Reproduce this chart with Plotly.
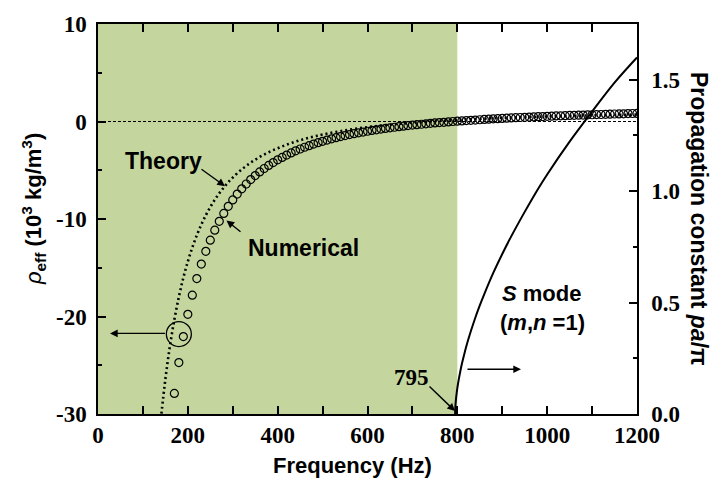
import plotly.graph_objects as go

# ---------------- data ----------------
num_freq = [170, 180, 190, 200, 210, 220, 230, 240, 250, 260,
            270, 280, 290, 300, 310, 320, 330, 340, 350, 360,
            370, 380, 390, 400, 410, 420, 430, 440, 450, 460,
            470, 480, 490, 500, 510, 520, 530, 540, 550, 560,
            570, 580, 590, 600, 610, 620, 630, 640, 650, 660,
            670, 680, 690, 700, 710, 720, 730, 740, 750, 760,
            770, 780, 790, 800, 810, 820, 830, 840, 850, 860,
            870, 880, 890, 900, 910, 920, 930, 940, 950, 960,
            970, 980, 990, 1000, 1010, 1020, 1030, 1040, 1050, 1060,
            1070, 1080, 1090, 1100, 1110, 1120, 1130, 1140, 1150, 1160,
            1170, 1180, 1190, 1200]
num_rho = [-27.89, -24.73, -22.06, -19.78, -17.81, -16.11, -14.62, -13.32, -12.17, -11.15,
           -10.24, -9.43, -8.70, -8.04, -7.44, -6.90, -6.41, -5.96, -5.55, -5.17,
           -4.82, -4.50, -4.21, -3.93, -3.68, -3.44, -3.22, -3.01, -2.82, -2.64,
           -2.48, -2.32, -2.17, -2.03, -1.90, -1.78, -1.66, -1.55, -1.44, -1.34,
           -1.25, -1.16, -1.08, -1.00, -0.92, -0.85, -0.78, -0.71, -0.65, -0.59,
           -0.53, -0.48, -0.42, -0.37, -0.33, -0.28, -0.24, -0.19, -0.15, -0.11,
           -0.08, -0.04, 0.00, 0.03, 0.06, 0.09, 0.12, 0.15, 0.18, 0.21,
           0.24, 0.27, 0.29, 0.32, 0.34, 0.37, 0.39, 0.41, 0.43, 0.45,
           0.47, 0.49, 0.51, 0.53, 0.55, 0.57, 0.58, 0.60, 0.62, 0.63,
           0.65, 0.66, 0.68, 0.69, 0.71, 0.72, 0.74, 0.75, 0.77, 0.78,
           0.79, 0.81, 0.82, 0.83]

theory_freq = [140, 150, 160, 170, 180, 190, 200, 210, 220, 230,
               240, 250, 260, 270, 280, 290, 300, 320, 340, 360,
               380, 400, 420, 440, 460, 480, 500, 550, 600, 650,
               700, 750, 800, 900, 1000, 1100, 1200]
theory_rho = [-30.49, -26.42, -23.08, -20.31, -18.00, -16.03, -14.36, -12.92, -11.67, -10.58,
              -9.62, -8.78, -8.03, -7.36, -6.77, -6.23, -5.75, -4.91, -4.22, -3.64,
              -3.15, -2.74, -2.38, -2.06, -1.79, -1.55, -1.34, -0.91, -0.58, -0.33,
              -0.13, 0.04, 0.17, 0.37, 0.52, 0.63, 0.71]

prop_freq = [795, 795.5, 796, 797, 798, 800, 803, 806, 810, 815,
             820, 830, 840, 850, 860, 880, 900, 920, 950, 980,
             1000, 1050, 1100, 1150, 1200]
prop_const = [0.0, 0.029, 0.044, 0.067, 0.085, 0.116, 0.153, 0.185, 0.224, 0.265,
              0.304, 0.371, 0.432, 0.487, 0.538, 0.633, 0.718, 0.797, 0.907, 1.011,
              1.075, 1.222, 1.357, 1.487, 1.600]

x_ticks = [0, 200, 400, 600, 800, 1000, 1200]
x_ticktext = ["0", "200", "400", "600", "800", "1000", "1200"]
y_ticks = [-30, -20, -10, 0, 10]
y_ticktext = ["-30", "-20", "-10", "0", "10"]
y2_ticks = [0, 0.5, 1.0, 1.5]
y2_ticktext = ["0.0", "0.5", "1.0", "1.5"]
band_end = 800

# ---------------- layout helpers ----------------
W, H = 711, 484
L, R, T, B = 98, 74, 22, 70
PW, PH = W - L - R, H - T - B
SANS = "Liberation Sans, Arial, sans-serif"
SERIF = "Liberation Serif, Times New Roman, serif"


def px(xp, yp):
    return (xp - L) / PW, (H - B - yp) / PH


def bold(lst):
    return ["<b>%s</b>" % s for s in lst]


fig = go.Figure()

fig.add_trace(go.Scatter(
    x=theory_freq, y=theory_rho, mode="lines", line_shape="spline",
    line=dict(color="black", width=2.6, dash="2px,3px"),
    showlegend=False))

fig.add_trace(go.Scatter(
    x=num_freq, y=num_rho, mode="markers",
    marker=dict(symbol="circle-open", size=8, color="black",
                line=dict(width=1.2, color="black")),
    showlegend=False))

fig.add_trace(go.Scatter(
    x=prop_freq, y=prop_const, mode="lines", yaxis="y2", line_shape="spline",
    line=dict(color="black", width=2), showlegend=False))

axis_common = dict(showgrid=False, zeroline=False, showline=True,
                   linecolor="black", linewidth=1.5, ticks="inside",
                   ticklen=8, tickwidth=1.5, tickcolor="black",
                   tickfont=dict(family=SERIF, size=23, color="black"))

fig.update_layout(
    width=W, height=H,
    margin=dict(l=L, r=R, t=T, b=B),
    paper_bgcolor="white", plot_bgcolor="white",
    xaxis=dict(range=[0, 1200], tickvals=x_ticks, ticktext=bold(x_ticktext),
               mirror="allticks",
               minor=dict(dtick=100, ticks="inside", ticklen=4, tickwidth=1.5,
                          tickcolor="black"),
               ticklabelstandoff=0,
               **axis_common),
    yaxis=dict(range=[-30, 10], tickvals=y_ticks, ticktext=bold(y_ticktext),
               minor=dict(dtick=5, ticks="inside", ticklen=4, tickwidth=1.5,
                          tickcolor="black"),
               ticklabelstandoff=5,
               **axis_common),
    yaxis2=dict(range=[0, 1.75], overlaying="y", side="right",
                tickvals=y2_ticks, ticktext=bold(y2_ticktext),
                minor=dict(dtick=0.25, ticks="inside", ticklen=4, tickwidth=1.5,
                           tickcolor="black"),
                ticklabelstandoff=8,
                **axis_common),
)

# green band and zero line
fig.add_shape(type="rect", xref="x", yref="paper", x0=0, x1=band_end, y0=0, y1=1,
              fillcolor="#C4D69D", line=dict(width=0), layer="below")
fig.add_shape(type="line", xref="paper", yref="y", x0=0, x1=1, y0=0, y1=0,
              line=dict(color="black", width=1, dash="3px,2px"), layer="below")

# circle marker around a point
cx, cy = 180, -21.8
fig.add_shape(type="circle", xref="x", yref="y", xsizemode="pixel", ysizemode="pixel",
              xanchor=cx, yanchor=cy, x0=-12.5, x1=12.5, y0=-12.5, y1=12.5,
              line=dict(color="black", width=1.3))

ann = []


def text_at(xp, yp, txt, size=22, family=SANS, angle=0):
    x, y = px(xp, yp)
    ann.append(dict(xref="paper", yref="paper", x=x, y=y, text="<b>%s</b>" % txt,
                    showarrow=False, textangle=angle, xanchor="center", yanchor="middle",
                    font=dict(family=family, size=size, color="black")))


def arrow(head_px, tail_px):
    x, y = px(*head_px)
    ann.append(dict(xref="paper", yref="paper", x=x, y=y, text="", showarrow=True,
                    ax=tail_px[0] - head_px[0], ay=tail_px[1] - head_px[1],
                    arrowhead=2, arrowsize=1.1, arrowwidth=1.4, arrowcolor="black",
                    standoff=0, startstandoff=0))


text_at(163, 160, "Theory", size=23)
arrow((225, 185), (200, 167))
text_at(303, 247, "Numerical", size=23)
arrow((226.5, 219.5), (242, 232))
arrow((110, 333), (166.5, 333))
text_at(411, 377, "795", size=23, family=SERIF)
arrow((455, 411), (428, 385))
text_at(541, 293, "<i>S</i> mode", size=22)
text_at(542, 322, "(<i>m</i>,<i>n</i> =1)", size=22)
arrow((521, 369), (466, 369))

# axis titles
text_at(352, 466, "Frequency (Hz)", size=22)
x0, y0 = px(33, 208)
ann.append(dict(xref="paper", yref="paper", x=x0, y=y0, showarrow=False, textangle=-90,
                xanchor="center", yanchor="middle",
                text="<i>ρ</i><sub><b>eff</b></sub><b> (10<sup>3</sup> kg/m<sup>3</sup>)</b>",
                font=dict(family=SANS, size=22, color="black")))
text_at(699, 218, "Propagation constant <i>pa</i>/π", size=23, angle=90)

fig.update_layout(annotations=ann)

fig.write_html("out.html")
